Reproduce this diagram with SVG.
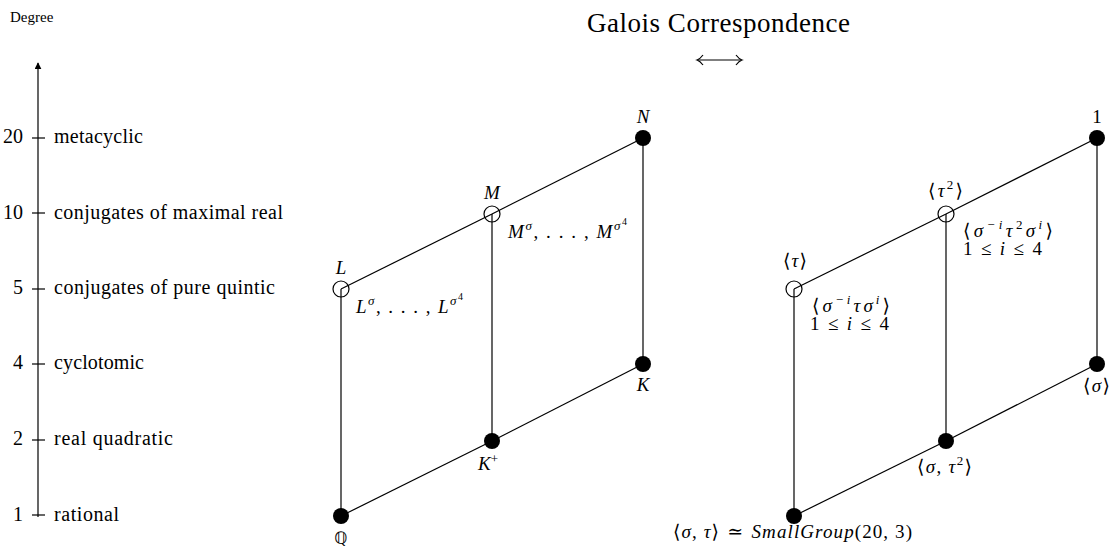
<svg xmlns="http://www.w3.org/2000/svg" width="1113" height="548" viewBox="0 0 1113 548" font-family="'Liberation Serif', 'DejaVu Serif', serif">
<style>
text{font-family:'Liberation Serif','DejaVu Serif',serif;fill:#000}
.ax{font-size:20px}
.title{font-size:27px}
.deg{font-size:15px}
.m{font-size:19px;font-style:italic}
.up{font-style:normal}
.s{font-size:13px}
.ss{font-size:10px}
.sym{font-family:'DejaVu Serif','DejaVu Sans',serif;font-style:normal}
.edge{stroke:#000;stroke-width:1.2;fill:none}
.full{fill:#000}
.open{fill:none;stroke:#000;stroke-width:1.2}
</style>
<defs>
<marker id="ah" viewBox="0 0 10 10" refX="9" refY="5" markerWidth="7" markerHeight="7" orient="auto-start-reverse" markerUnits="userSpaceOnUse">
<path d="M0,0 L10,5 L0,10 z" fill="#000"/>
</marker>
</defs>
<rect width="1113" height="548" fill="#fff"/>

<g id="header">
<text class="deg" x="10" y="22">Degree</text>
<text class="title" x="587" y="32" textLength="263" lengthAdjust="spacing">Galois Correspondence</text>
<g class="edge" stroke-width="1">
<line x1="698" y1="60" x2="741" y2="60"/>
<path d="M703,55 Q700,59 697,60 Q700,61 703,65"/>
<path d="M736,55 Q739,59 742,60 Q739,61 736,65"/>
</g>
</g>

<g id="axis">
<line x1="38" y1="517" x2="38" y2="63" class="edge" marker-end="url(#ah)"/>
<g class="edge">
<line x1="32" y1="138" x2="45" y2="138"/>
<line x1="32" y1="213" x2="45" y2="213"/>
<line x1="32" y1="289" x2="45" y2="289"/>
<line x1="32" y1="364" x2="45" y2="364"/>
<line x1="32" y1="440" x2="45" y2="440"/>
<line x1="32" y1="515" x2="45" y2="515"/>
</g>
<g class="ax" text-anchor="end">
<text x="23" y="143">20</text>
<text x="23" y="219">10</text>
<text x="23" y="294">5</text>
<text x="23" y="369">4</text>
<text x="23" y="445">2</text>
<text x="23" y="521">1</text>
</g>
<g class="ax">
<text x="54" y="143" textLength="89" lengthAdjust="spacing">metacyclic</text>
<text x="54" y="219" textLength="229" lengthAdjust="spacing">conjugates of maximal real</text>
<text x="54" y="294" textLength="221" lengthAdjust="spacing">conjugates of pure quintic</text>
<text x="54" y="369" textLength="90" lengthAdjust="spacing">cyclotomic</text>
<text x="54" y="445" textLength="119" lengthAdjust="spacing">real quadratic</text>
<text x="54" y="521" textLength="65" lengthAdjust="spacing">rational</text>
</g>
</g>

<g id="connectors" class="edge">
<line x1="341" y1="516" x2="492" y2="441"/>
<line x1="492" y1="441" x2="643" y2="364"/>
<line x1="341" y1="289" x2="492" y2="214"/>
<line x1="492" y1="214" x2="643" y2="138"/>
<line x1="341" y1="516" x2="341" y2="289"/>
<line x1="492" y1="441" x2="492" y2="214"/>
<line x1="643" y1="364" x2="643" y2="138"/>
<line x1="794" y1="516" x2="946" y2="441"/>
<line x1="946" y1="441" x2="1097" y2="364"/>
<line x1="794" y1="289" x2="946" y2="214"/>
<line x1="946" y1="214" x2="1097" y2="138"/>
<line x1="794" y1="516" x2="794" y2="289"/>
<line x1="946" y1="441" x2="946" y2="214"/>
<line x1="1097" y1="364" x2="1097" y2="138"/>
</g>

<g id="node-Q"><circle cx="341" cy="516" r="8" class="full"/><text x="341" y="544" text-anchor="middle" style="font-family:'DejaVu Sans',sans-serif;font-size:17px;fill:#000">ℚ</text></g>
<g id="node-Kplus"><circle cx="492" cy="441" r="8" class="full"/><text class="m" x="478" y="470">K<tspan class="s up" dy="-7">+</tspan></text></g>
<g id="node-K"><circle cx="643" cy="364" r="8" class="full"/><text class="m" x="643" y="391" text-anchor="middle">K</text></g>
<g id="node-L"><circle cx="341" cy="289" r="8" class="open"/><text class="m" x="341" y="274" text-anchor="middle">L</text>
<text class="m" x="356" y="313" textLength="107" lengthAdjust="spacing">L<tspan class="s" dy="-8">σ</tspan><tspan class="up" dy="8">, . . . , </tspan>L<tspan class="s" dy="-8">σ</tspan><tspan class="ss up" dy="-5">4</tspan></text></g>
<g id="node-M"><circle cx="492" cy="214" r="8" class="open"/><text class="m" x="492" y="199" text-anchor="middle">M</text>
<text class="m" x="508" y="238" textLength="119" lengthAdjust="spacing">M<tspan class="s" dy="-8">σ</tspan><tspan class="up" dy="8">, . . . , </tspan>M<tspan class="s" dy="-8">σ</tspan><tspan class="ss up" dy="-5">4</tspan></text></g>
<g id="node-N"><circle cx="643" cy="138" r="8" class="full"/><text class="m" x="643" y="123" text-anchor="middle">N</text></g>

<g id="node-G"><circle cx="794" cy="516" r="8" class="full"/><text class="m" x="673" y="538" textLength="239" lengthAdjust="spacing"><tspan class="sym">⟨</tspan>σ<tspan class="up">, </tspan>τ<tspan class="sym">⟩ ≃ </tspan>SmallGroup<tspan class="up">(20, 3)</tspan></text></g>
<g id="node-sigtau2"><circle cx="946" cy="441" r="8" class="full"/><text class="m" x="917" y="473" textLength="55" lengthAdjust="spacing"><tspan class="sym">⟨</tspan>σ<tspan class="up">, </tspan>τ<tspan class="s up" dy="-8">2</tspan><tspan class="sym" dy="8">⟩</tspan></text></g>
<g id="node-sigma"><circle cx="1097" cy="364" r="8" class="full"/><text class="m" x="1083" y="392" textLength="27" lengthAdjust="spacing"><tspan class="sym">⟨</tspan>σ<tspan class="sym">⟩</tspan></text></g>
<g id="node-tau"><circle cx="794" cy="289" r="8" class="open"/><text class="m" x="783" y="267" textLength="24" lengthAdjust="spacing"><tspan class="sym">⟨</tspan>τ<tspan class="sym">⟩</tspan></text>
<text class="m" x="812" y="312" textLength="78" lengthAdjust="spacing"><tspan class="sym">⟨</tspan>σ<tspan class="s" dy="-8">−i</tspan><tspan dy="8">τσ</tspan><tspan class="s" dy="-8">i</tspan><tspan class="sym" dy="8">⟩</tspan></text>
<text class="m" x="810" y="330" textLength="79" lengthAdjust="spacing"><tspan class="up">1 ≤ </tspan>i<tspan class="up"> ≤ 4</tspan></text></g>
<g id="node-tau2"><circle cx="946" cy="214" r="8" class="open"/><text class="m" x="928" y="197" textLength="35" lengthAdjust="spacing"><tspan class="sym">⟨</tspan>τ<tspan class="s up" dy="-8">2</tspan><tspan class="sym" dy="8">⟩</tspan></text>
<text class="m" x="963" y="237" textLength="90" lengthAdjust="spacing"><tspan class="sym">⟨</tspan>σ<tspan class="s" dy="-8">−i</tspan><tspan dy="8">τ</tspan><tspan class="s up" dy="-8">2</tspan><tspan dy="8">σ</tspan><tspan class="s" dy="-8">i</tspan><tspan class="sym" dy="8">⟩</tspan></text>
<text class="m" x="963" y="255" textLength="79" lengthAdjust="spacing"><tspan class="up">1 ≤ </tspan>i<tspan class="up"> ≤ 4</tspan></text></g>
<g id="node-one"><circle cx="1097" cy="138" r="8" class="full"/><text class="m up" x="1097" y="123" text-anchor="middle">1</text></g>
</svg>
